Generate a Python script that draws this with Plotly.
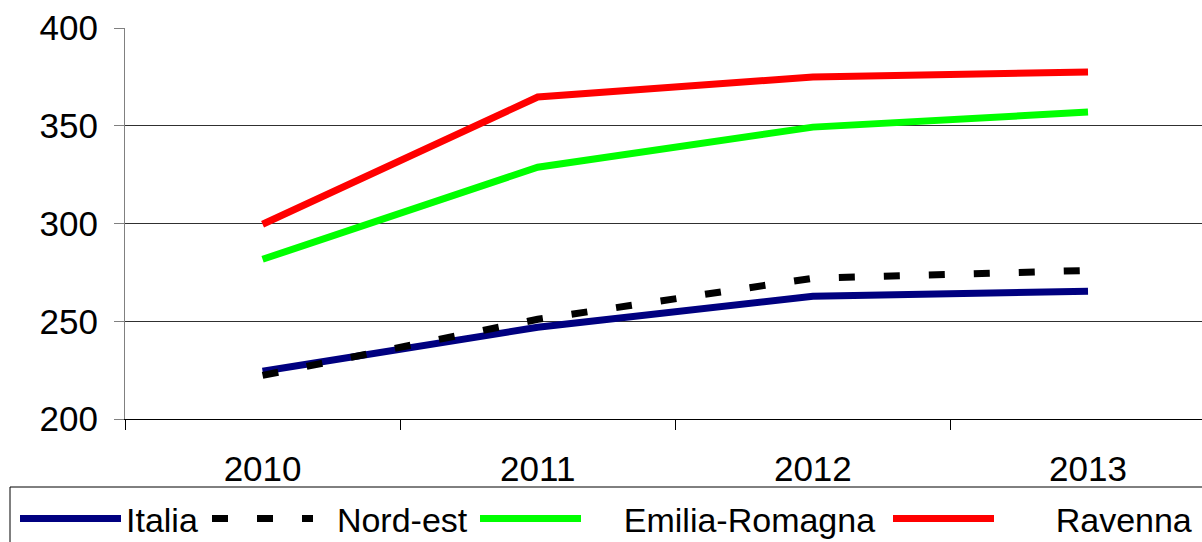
import plotly.graph_objects as go

years = ['2010', '2011', '2012', '2013']
series_names = ['Italia', 'Nord-est', 'Emilia-Romagna', 'Ravenna']
italia = [224.4, 246.9, 262.8, 265.3]
nord_est = [222.3, 251.0, 272.0, 276.0]
emilia_romagna = [281.7, 328.8, 349.3, 357.0]
ravenna = [299.6, 364.7, 374.9, 377.5]
y_ticks = [200, 250, 300, 350, 400]
grid_vals = [250, 300, 350]

W, H = 1202, 542
L, R, T, B = 125, 0, 28, 123
pw, ph = W - L - R, H - T - B


def px_x(p):
    return (p - L) / pw


def px_y(p):
    return (H - B - p) / ph


styles = [
    dict(color='#000080', width=7),
    dict(color='#000000', width=7, dash='16px,29px'),
    dict(color='#00ff00', width=7),
    dict(color='#ff0000', width=7),
]
# legend sample start (px) and extra gap before the label (in spaces)
legend_x = [20, 212, 480, 893]
label_pad = [0, 2, 4, 6]

fig = go.Figure()
for i, (name, vals) in enumerate(zip(series_names, [italia, nord_est, emilia_romagna, ravenna])):
    key = 'legend' if i == 0 else f'legend{i + 1}'
    fig.add_trace(go.Scatter(x=years, y=vals, name='\u00a0' * label_pad[i] + name, mode='lines',
                             line=styles[i], legend=key))

font = dict(family='Liberation Sans, Arial, sans-serif', size=34, color='#000000')
tick_font = dict(family='Liberation Sans, Arial, sans-serif', size=35, color='#000000')
legends = {}
for i, lx in enumerate(legend_x):
    key = 'legend' if i == 0 else f'legend{i + 1}'
    legends[key] = dict(x=px_x(lx - 5), xanchor='left', y=px_y(519), yanchor='middle',
                        orientation='h', bgcolor='rgba(0,0,0,0)', borderwidth=0,
                        font=font, itemwidth=101)

fig.update_layout(
    width=W, height=H,
    margin=dict(l=L, r=R, t=T, b=B, pad=0, autoexpand=False),
    paper_bgcolor='white', plot_bgcolor='white',
    font=font,
    showlegend=True,
    xaxis=dict(type='category', range=[-0.5, 3.5 - 23.6 / 275.3], tickson='boundaries',
               ticks='outside', ticklen=10, tickcolor='#000000', showgrid=False,
               showline=True, linecolor='#000000', linewidth=1, ticklabelstandoff=19,
               tickfont=tick_font),
    yaxis=dict(range=[200, 400], tickvals=y_ticks, ticks='outside', ticklen=10,
               tickcolor='#808080', showgrid=False, zeroline=False,
               showline=True, linecolor='#808080', linewidth=1, ticklabelstandoff=9,
               tickfont=tick_font,
               minor=dict(tickvals=grid_vals, showgrid=True, gridcolor='#303030',
                          gridwidth=1, ticks='')),
    shapes=[dict(type='rect', xref='paper', yref='paper',
                 x0=px_x(10), x1=px_x(W + 20), y0=px_y(487), y1=px_y(H + 20),
                 line=dict(color='#000000', width=1))],
    **legends,
)

fig.write_html('out.html', config={'displayModeBar': False},
               post_script="document.body.style.margin='0';document.body.style.overflow='hidden';")
